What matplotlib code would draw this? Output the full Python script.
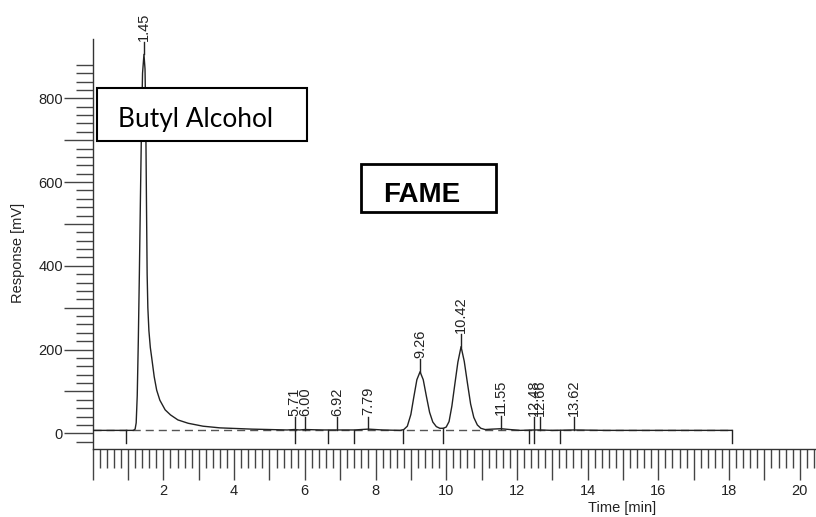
import numpy as np
import matplotlib.pyplot as plt
from matplotlib.patches import Rectangle

plt.rcParams.update({
    "font.family": "Liberation Sans",
    "font.size": 10.5,
})

# chromatogram trace (time in min, response in mV)
time = [0.00, 0.50, 1.00, 1.15, 1.20, 1.23, 1.26, 1.29, 1.32, 1.35, 1.38, 1.41,
        1.45, 1.48, 1.50, 1.52, 1.54, 1.56, 1.59, 1.63, 1.67, 1.74, 1.81, 1.90,
        2.05, 2.20, 2.41, 2.70, 3.12, 3.60, 4.50, 5.50, 5.71, 5.85, 6.00, 6.50,
        6.92, 7.40, 7.79, 8.20, 8.70, 8.80, 8.90, 9.00, 9.08, 9.17, 9.26, 9.35,
        9.44, 9.53, 9.62, 9.72, 9.82, 9.92, 10.00, 10.08, 10.16, 10.24, 10.33,
        10.42, 10.51, 10.60, 10.69, 10.78, 10.88, 10.98, 11.10, 11.30, 11.55,
        11.80, 12.10, 12.48, 12.66, 13.00, 13.62, 14.50, 16.00, 18.08]
response = [7, 7, 7, 7, 10, 25, 90, 220, 380, 560, 730, 860,
            905, 870, 760, 560, 380, 300, 245, 205, 180, 135, 103, 79,
            56, 44, 32, 24, 17, 13, 10, 8, 9, 8, 9, 8,
            8, 8, 10, 8, 7, 9, 17, 45, 85, 128, 147, 128,
            88, 50, 27, 16, 12, 12, 15, 28, 65, 115, 170,
            207, 172, 120, 70, 38, 20, 12, 9, 10, 11,
            9, 7, 8, 8, 7, 8, 7, 7, 7]

# labelled peaks (retention times) and integration boundaries
peak_times = [1.45, 5.71, 6.00, 6.92, 7.79, 9.26, 10.42, 11.55, 12.48, 12.66, 13.62]
boundary_times = [0.93, 5.72, 6.67, 7.40, 8.77, 9.92, 12.33, 12.49, 13.22, 18.08]
baseline_level = 7
baseline_end = 18.08

fig = plt.figure(figsize=(8.16, 5.17), dpi=100)
ax = fig.add_axes([0.1136, 0.1315, 0.8864, 0.7925])

line_col = '#222222'
ax.plot(time, response, color=line_col, lw=1.0, zorder=3)
ax.plot([0, baseline_end], [baseline_level, baseline_level], color='#555555',
        lw=1.0, ls=(0, (5.8, 3.6)), zorder=2)

# peak apex markers with retention time labels
for t in peak_times:
    y0 = np.interp(t, time, response)
    ax.plot([t, t], [y0, y0 + 30], color=line_col, lw=1.0)
    ax.text(t, y0 + 33, f"{t:.2f}", rotation=90, ha='center', va='bottom',
            color='#222222')

# peak start/end markers below the baseline
for t in boundary_times:
    y0 = np.interp(t, time, response)
    ax.plot([t, t], [y0, -24], color=line_col, lw=1.0)

ax.set_xlim(0, 20.46)
ax.set_ylim(-37.5, 941)

for s in ['top', 'right']:
    ax.spines[s].set_visible(False)
for s in ['left', 'bottom']:
    ax.spines[s].set_color('#333333')
    ax.spines[s].set_linewidth(1.0)

xmaj = np.arange(0, 21, 1)
ax.set_xticks(xmaj)
ax.set_xticklabels([str(v) if v % 2 == 0 and v > 0 else '' for v in xmaj])
ax.set_xticks(np.arange(0, 20.5, 0.2), minor=True)
ax.tick_params(axis='x', which='major', length=22.3, width=1, color='#444444',
               pad=3, labelcolor='#222222')
ax.tick_params(axis='x', which='minor', length=13.7, width=1, color='#444444')

ymaj = np.arange(0, 900, 100)
ax.set_yticks(ymaj)
ax.set_yticklabels([str(v) if v % 200 == 0 else '' for v in ymaj])
ax.set_yticks(np.arange(-20, 900, 20), minor=True)
ax.tick_params(axis='y', which='major', length=21, width=1, color='#444444',
               pad=0.5, labelcolor='#222222')
ax.tick_params(axis='y', which='minor', length=12.2, width=1, color='#444444')

fig.text(0.022, 0.51, "Response [mV]", rotation=90, ha='center', va='center',
         color='#222222')
fig.text(0.7623, 0.0174, "Time [min]", ha='center', va='center', color='#222222')

# annotation boxes
fig.add_artist(Rectangle((0.1185, 0.7279), 0.2577, 0.1013, transform=fig.transFigure,
                         facecolor='white', edgecolor='black', lw=1.5, zorder=5))
fig.text(0.1442, 0.7544, "Butyl Alcohol", family='Lato', fontsize=18.9,
         va='baseline', ha='left', zorder=6)
fig.add_artist(Rectangle((0.4424, 0.5894), 0.1654, 0.0928, transform=fig.transFigure,
                         facecolor='white', edgecolor='black', lw=2.0, zorder=5))
fig.text(0.4697, 0.6099, "FAME", fontweight='bold', fontsize=20,
         va='baseline', ha='left', zorder=6)

fig.savefig("out.png", dpi=100, facecolor='white')
